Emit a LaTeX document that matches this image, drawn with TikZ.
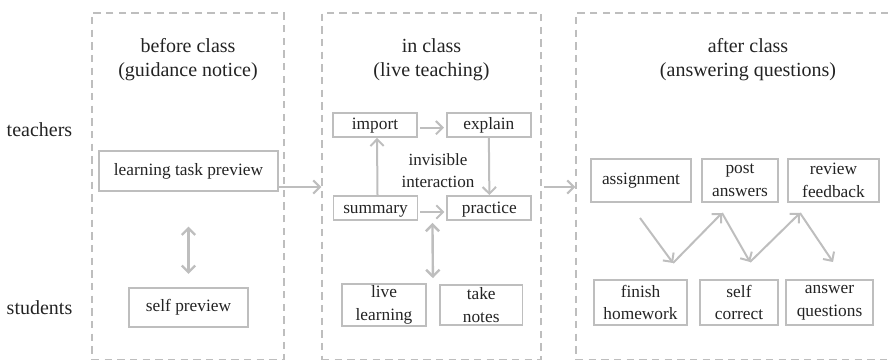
\documentclass[tikz,border=0pt]{standalone}
\usepackage{fontspec}
\setmainfont{Liberation Serif}
\usepackage{tikz}
\usetikzlibrary{arrows.meta, positioning, calc}
\definecolor{inkgray}{RGB}{35, 35, 35}
\definecolor{linegray}{RGB}{190, 190, 190}

\begin{document}
\begin{tikzpicture}[
    x=0.75pt, y=0.75pt,
    every node/.style={text=inkgray, font=\fontsize{13}{17}\selectfont},
    head/.style={align=center, font=\fontsize{15}{18}\selectfont},
    panel/.style={rectangle, draw=linegray, line width=1.1pt,
                  dash pattern=on 5.5pt off 4pt, minimum height=260pt},
    item/.style={rectangle, draw=linegray, line width=1.4pt, align=center,
                 inner sep=1.5pt},
    small/.style={item, minimum width=63pt, minimum height=18pt,
                  text height=9pt, text depth=1.5pt},
    tall/.style={item, minimum height=32pt},
    arr/.style={-{Straight Barb[length=5pt, width=10pt]}, line width=1.5pt, linegray},
    both/.style={{Straight Barb[length=5pt, width=10pt]}-{Straight Barb[length=5pt, width=10pt]},
                 line width=1.8pt, linegray},
]
\clip (0,0) rectangle (888,361);

% the three phases
\node[panel, minimum width=144pt] (before) at (188,174.75) {};
\node[panel, minimum width=164.25pt] (inclass) at (431.5,174.75) {};
\node[panel, minimum width=258pt] (after) at (748,174.75) {};

\node[head] (beforehead) at (188,301) {before class\\(guidance notice)};
\node[head] (inhead) at (431.5,301) {in class\\(live teaching)};
\node[head] (afterhead) at (748,301) {after class\\(answering questions)};

% roles
\node[head] (teachers) at (39.5,231) {teachers};
\node[head] (students) at (39.5,53) {students};

% before class
\node[item, minimum width=134pt, minimum height=30pt] (learn) at (188.5,190) {learning task preview};
\node[item, minimum width=89pt, minimum height=29pt] (selfprev) at (188.5,53.5) {self preview};

% in class
\node[small] (import) at (375,236) {import};
\node[small, right=21pt of import] (explain) {explain};
\node[small] (summary) at (375.5,153) {summary};
\node[small, right=21pt of summary] (practice) {practice};
\node[align=center, font=\fontsize{12.8}{16.5}\selectfont] (invisible) at (438,190) {invisible\\interaction};
\node[item, minimum width=63pt, minimum height=30pt] (live) at (384,56) {live\\learning};
\node[item, minimum width=62pt, minimum height=30pt, right=9pt of live] (notes) {take\\notes};

% after class
\node[tall, minimum width=75pt] (assign) at (641,180.5) {assignment};
\node[tall, minimum width=57pt] (post) at (740,180.5) {post\\answers};
\node[tall, minimum width=68pt] (review) at (833.5,180.5) {review\\feedback};
\node[tall, minimum width=70pt, minimum height=34pt] (finish) at (640.5,58.5) {finish\\homework};
\node[tall, minimum width=58pt, minimum height=34pt] (selfcor) at (739,58.5) {self\\correct};
\node[tall, minimum width=65pt, minimum height=34pt] (answer) at (829.5,58.5) {answer\\questions};

% phase to phase
\coordinate (flow) at (0,174);
\draw[arr] (learn.east |- flow) -- (inclass.west |- flow);
\draw[arr] ([xshift=1.5pt]inclass.east |- flow) -- (after.west |- flow);

% teacher / student links
\draw[both, shorten <=26pt, shorten >=10pt] (learn.south) -- (selfprev.north);
\draw[both, shorten <=1.5pt, shorten >=4pt]
    ($(summary.south east)!.5!(practice.south west)$) -- ($(live.north east)!.5!(notes.north west)$);

% live teaching loop
\draw[arr, shorten <=1.5pt, shorten >=1.5pt] ([yshift=-2pt]import.east) -- ([yshift=-2pt]explain.west);
\draw[arr] (explain.south) -- (practice.north);
\draw[arr, shorten <=1.5pt, shorten >=1.5pt] ([yshift=-3pt]summary.east) -- ([yshift=-3pt]practice.west);
\draw[arr] ([xshift=1.5pt]summary.north) -- ([xshift=1.5pt]import.south);

% homework zigzag
\coordinate (z0) at (640,143);
\coordinate (z1) at (673,98);
\coordinate (z2) at (722,148);
\coordinate (z3) at (750,99);
\coordinate (z4) at (800,148);
\coordinate (z5) at (833,99);
\foreach \a/\b in {z0/z1, z1/z2, z2/z3, z3/z4, z4/z5}
    \draw[arr] (\a) -- (\b);

\end{tikzpicture}
\end{document}
